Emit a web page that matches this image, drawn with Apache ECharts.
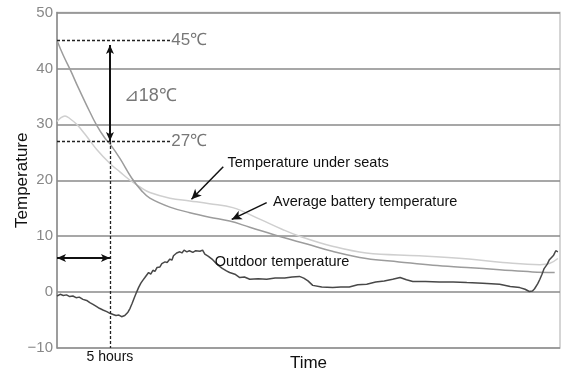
<!DOCTYPE html>
<html><head><meta charset="utf-8">
<script src="https://cdn.jsdelivr.net/npm/echarts@6/dist/echarts.min.js"></script>
<style>html,body{margin:0;padding:0;background:#fff}#c{width:562px;height:370px}</style>
</head><body><div id="c"></div>
<script>
// ---- data (x in hours, y in °C) ----
const yTicks = [-10, 0, 10, 20, 30, 40, 50];
const xTickLabel = {5: '5 hours'};
const batteryHours = [0,0.6,1.29,2.0,2.8,3.75,4.5,5.0,5.94,7.05,8.0,8.77,10.66,12.55,14.4,16.3,18.2,21.3,23.6,26.0,29.2,32.3,35.5,38.7,41.8,44.9,47.0];
const batteryTemps = [45,42.3,39.6,36.6,33.4,29.8,27.6,26.5,23.9,20.4,18.1,16.8,15.2,14.2,13.4,12.7,11.6,9.8,8.6,7.3,6.0,5.4,4.8,4.4,4.0,3.6,3.5];
const seatHours = [0,0.38,0.75,1.23,1.86,2.74,3.75,5.0,5.94,6.9,7.83,8.77,10.66,12.55,14.4,16.6,19.2,21.3,22.9,26.0,29.2,34.2,38.9,42.1,45.6,46.5,47.3];
const seatTemps = [30.5,31.2,31.5,31,30,28,25.5,23,21.5,20,18.8,17.8,16.8,16.3,15.8,15.1,13,11.2,10,8.2,7.0,6.5,5.9,5.3,4.9,5.1,6.0];
const outdoorHours = [0,0.3,0.6,0.9,1.2,1.5,1.8,2.1,2.45,2.8,3.1,3.4,3.75,4.0,4.34,4.7,5.0,5.3,5.57,5.85,6.1,6.4,6.7,6.9,7.1,7.3,7.52,7.7,7.92,8.1,8.3,8.46,8.65,8.85,9.06,9.25,9.45,9.72,9.9,10.05,10.2,10.4,10.66,10.85,11.0,11.13,11.3,11.45,11.6,11.8,12.0,12.26,12.5,12.83,13.1,13.5,13.75,13.96,14.3,14.7,15.1,15.57,16.0,16.3,16.8,17.26,17.7,18.2,19.0,19.8,20.6,21.5,22.2,22.9,23.3,23.7,24.15,25.0,26.04,26.8,27.6,28.4,29.25,30.1,30.9,31.7,32.4,33.0,33.6,34.8,36.1,37.4,38.7,40.2,41.8,42.8,43.7,44.2,44.6,44.9,45.1,45.4,45.6,45.8,46.0,46.3,46.5,46.9,47.1,47.3];
const outdoorTemps = [-0.7,-0.4,-0.6,-0.5,-0.8,-0.7,-1.0,-0.9,-1.3,-1.5,-1.9,-2.2,-2.6,-2.9,-3.2,-3.5,-3.8,-4.0,-4.2,-4.1,-4.4,-4.2,-3.6,-2.9,-2.0,-1.0,0.0,0.8,1.6,2.1,2.6,2.9,3.5,3.2,3.9,3.7,4.4,4.5,5.1,4.8,5.4,5.3,5.9,5.7,6.5,6.3,7.0,6.7,7.2,7.0,7.5,7.2,7.4,7.1,7.4,7.3,7.5,6.8,6.4,5.8,5.0,4.3,3.8,3.5,3.2,2.6,2.7,2.3,2.4,2.3,2.5,2.5,2.7,2.8,2.5,2.0,1.2,0.9,0.8,0.9,0.9,1.3,1.4,1.8,2.0,2.3,2.6,2.2,1.9,1.9,1.8,1.8,1.7,1.6,1.4,1.0,0.8,0.5,0.1,0.2,0.6,1.5,2.3,3.2,4.2,5.0,5.8,6.6,7.4,7.2];
// annotation values
const startTemp = 45, fiveHourTemp = 27, markHour = 5, deltaLabel = '⊿18℃';
const seriesNames = ['Average battery temperature','Temperature under seats','Outdoor temperature'];

const FONT = 'Liberation Sans, Arial, sans-serif';
const zip = (a, b) => a.map((v, i) => [v, b[i]]);
const txt = (coord, text, opt) => ({coord, value: text, symbolSize: 0,
  label: Object.assign({show: true, position: 'right', distance: 0, formatter: text,
    fontFamily: FONT, fontSize: 14.5, color: '#111'}, opt || {})});

const chart = echarts.init(document.getElementById('c'));
chart.setOption({
  animation: false,
  grid: {left: 57, right: 2, top: 12.5, bottom: 22, containLabel: false, outerBoundsMode: 'none',
    show: true, borderColor: '#c8c8c8', borderWidth: 1.5},
  xAxis: {type: 'value', min: 0, max: 47.5, interval: 5,
    axisLine: {show: false}, axisTick: {show: false}, splitLine: {show: false},
    axisLabel: {formatter: v => xTickLabel[v] || '', color: '#111', fontSize: 14, margin: 2,
      fontFamily: FONT, showMaxLabel: false},
    name: 'Time', nameLocation: 'middle', nameGap: 7, nameMoveOverlap: false,
    nameTextStyle: {fontSize: 17, color: '#111', fontFamily: FONT, verticalAlign: 'top'}},
  yAxis: {type: 'value', min: yTicks[0], max: yTicks[yTicks.length - 1], interval: 10,
    axisLine: {show: true, lineStyle: {color: '#8a8a8a', width: 1.5}}, axisTick: {show: false},
    splitLine: {show: true, lineStyle: {color: '#8a8a8a', width: 1.5}},
    axisLabel: {color: '#888', fontSize: 15, margin: 4, fontFamily: FONT,
      formatter: v => String(v).replace('-', '−')},
    name: 'Temperature', nameLocation: 'middle', nameGap: 26, nameMoveOverlap: false,
    nameTextStyle: {fontSize: 17, color: '#111', fontFamily: FONT}},
  series: [
    {name: seriesNames[0], type: 'line', smooth: 0.4, symbol: 'none', z: 3,
     data: zip(batteryHours, batteryTemps), lineStyle: {color: '#9c9c9c', width: 1.5},
     markLine: {silent: true, symbol: 'none', label: {show: false},
       data: [
         [{coord: [0, startTemp], lineStyle: {type: [3, 2], color: '#222', width: 1.3}}, {coord: [10.7, startTemp]}],
         [{coord: [0, fiveHourTemp], lineStyle: {type: [3, 2], color: '#222', width: 1.3}}, {coord: [10.7, fiveHourTemp]}],
         [{coord: [markHour, fiveHourTemp], lineStyle: {type: [3, 2], color: '#222', width: 1.3}}, {coord: [markHour, -10]}],
         [{coord: [markHour, fiveHourTemp], symbol: 'arrow', symbolSize: [6, 9], lineStyle: {type: 'solid', color: '#111', width: 2}},
          {coord: [markHour, 44.2], symbol: 'arrow', symbolSize: [6, 9]}],
         [{coord: [0, 6.1], symbol: 'arrow', symbolSize: [6, 9], lineStyle: {type: 'solid', color: '#111', width: 2}},
          {coord: [markHour, 6.1], symbol: 'arrow', symbolSize: [6, 9]}],
         [{coord: [15.7, 22.4], symbol: 'none', lineStyle: {type: 'solid', color: '#111', width: 1.5}},
          {coord: [12.7, 16.6], symbol: 'arrow', symbolSize: [7, 10]}],
         [{coord: [19.8, 16.0], symbol: 'none', lineStyle: {type: 'solid', color: '#111', width: 1.5}},
          {coord: [16.5, 13.0], symbol: 'arrow', symbolSize: [7, 10]}]
       ]},
     markPoint: {silent: true, symbol: 'circle', data: [
       txt([10.8, startTemp], startTemp + '℃', {color: '#777', fontSize: 17}),
       txt([10.8, fiveHourTemp], fiveHourTemp + '℃', {color: '#777', fontSize: 17}),
       txt([6.3, 35.1], deltaLabel, {color: '#777', fontSize: 18}),
       txt([16.1, 23.1], seriesNames[1]),
       txt([20.4, 16.1], seriesNames[0]),
       txt([14.9, 5.4], seriesNames[2])
     ]}},
    {name: seriesNames[1], type: 'line', smooth: 0.4, symbol: 'none', z: 2,
     data: zip(seatHours, seatTemps), lineStyle: {color: '#cfcfcf', width: 1.5}},
    {name: seriesNames[2], type: 'line', smooth: false, symbol: 'none', z: 4,
     data: zip(outdoorHours, outdoorTemps), lineStyle: {color: '#484848', width: 1.5}}
  ]
});
</script></body></html>
